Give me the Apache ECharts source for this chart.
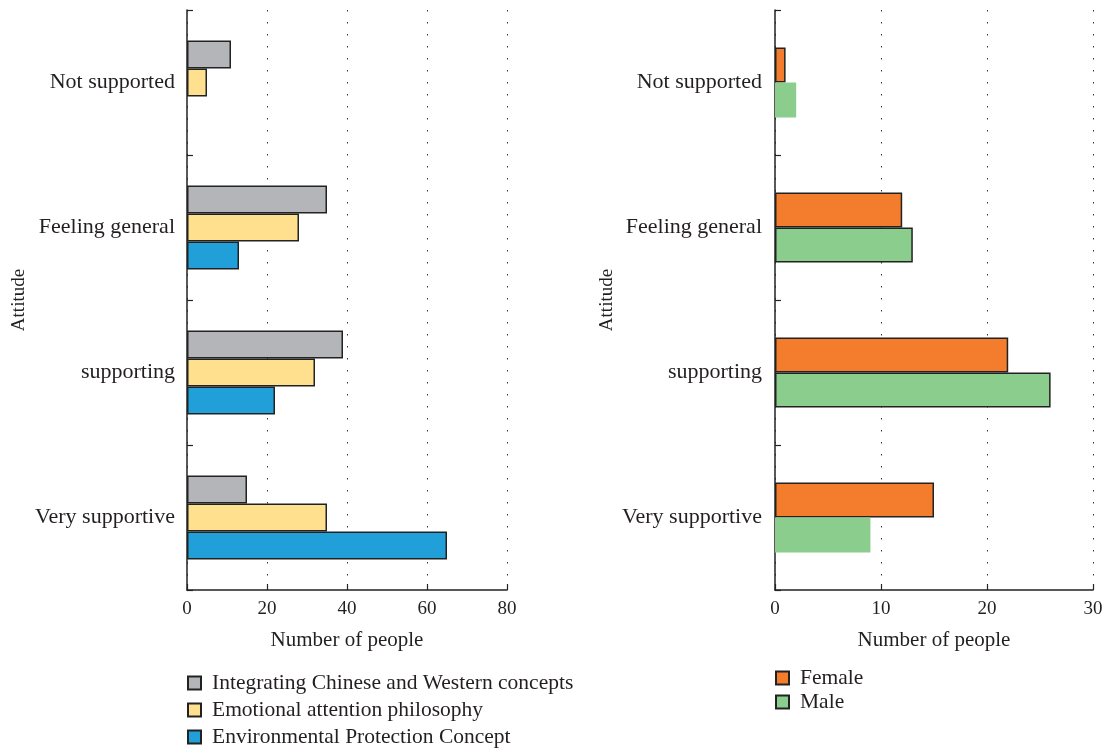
<!DOCTYPE html>
<html>
<head>
<meta charset="utf-8">
<script src="https://cdn.jsdelivr.net/npm/echarts@6/dist/echarts.min.js"></script>
<style>
html,body{margin:0;padding:0;background:#fff;}
#chart{width:1106px;height:750px;}
</style>
</head>
<body>
<div id="chart"></div>
<script>
const categories = ['Not supported', 'Feeling general', 'supporting', 'Very supportive'];
const seriesNamesLeft = ['Integrating Chinese and Western concepts', 'Emotional attention philosophy', 'Environmental Protection Concept'];
const integratingValues = [11, 35, 39, 15];
const emotionalValues = [5, 28, 32, 35];
const environmentalValues = [0, 13, 22, 65];
const seriesNamesRight = ['Female', 'Male'];
const femaleValues = [1, 12, 22, 15];
const maleValues = [2, 13, 26, 9];
const leftTicks = [0, 20, 40, 60, 80];
const rightTicks = [0, 10, 20, 30];

const FONT = '"Liberation Serif", "DejaVu Serif", serif';
const TXT = '#231f20';
const chart = echarts.init(document.getElementById('chart'));

function xAxisCfg(gridIndex, ticks) {
  return {
    type: 'value', gridIndex: gridIndex,
    min: ticks[0], max: ticks[ticks.length - 1], interval: ticks[1] - ticks[0],
    name: 'Number of people', nameLocation: 'middle', nameGap: 40,
    nameTextStyle: {fontFamily: FONT, fontSize: 21, color: TXT},
    axisLine: {show: true, lineStyle: {color: '#222', width: 1.5}},
    axisTick: {show: true, inside: true, length: 6, lineStyle: {color: '#222', width: 1.2}},
    axisLabel: {fontFamily: FONT, fontSize: 19, color: TXT, margin: 10},
    splitLine: {show: true, lineStyle: {color: '#333', width: 1, type: [1.5, 10.5]}}
  };
}
function yAxisCfg(gridIndex, gap, margin) {
  return {
    type: 'category', gridIndex: gridIndex, data: categories, inverse: true,
    name: 'Attitude', nameLocation: 'middle', nameGap: gap, nameRotate: 90,
    nameTextStyle: {fontFamily: FONT, fontSize: 19, color: TXT},
    axisLine: {show: true, lineStyle: {color: '#222', width: 1.5}},
    axisTick: {show: true, inside: true, length: 6, lineStyle: {color: '#222', width: 1.2}},
    axisLabel: {fontFamily: FONT, fontSize: 22, color: TXT, margin: margin},
    splitLine: {show: false}
  };
}
const border = {borderColor: '#222', borderWidth: 1.5};
const legendText = {fontFamily: FONT, fontSize: 21.5, color: TXT, padding: [0, 0, 0, 6]};

function legendFor(name, left, centerY) {
  return {data: [name], orient: 'vertical', left: left, top: centerY - 16, itemWidth: 13, itemHeight: 13,
          icon: 'rect', textStyle: legendText};
}
const leftRows = [683, 710, 737];
const rightRows = [678, 702];

chart.setOption({
  backgroundColor: '#fff',
  animation: false,
  grid: [
    {left: 187, right: 599, top: 10, bottom: 160, containLabel: false},
    {left: 775, right: 13, top: 10, bottom: 160, containLabel: false}
  ],
  xAxis: [xAxisCfg(0, leftTicks), xAxisCfg(1, rightTicks)],
  yAxis: [yAxisCfg(0, 158, 12), yAxisCfg(1, 158, 13)],
  legend: seriesNamesLeft.map((n, i) => legendFor(n, 182, leftRows[i]))
    .concat(seriesNamesRight.map((n, i) => legendFor(n, 770, rightRows[i]))),
  series: [
    {name: seriesNamesLeft[0], type: 'bar', xAxisIndex: 0, yAxisIndex: 0, data: integratingValues, barWidth: 28, barGap: '0%',
     itemStyle: Object.assign({color: '#b4b5b9'}, border)},
    {name: seriesNamesLeft[1], type: 'bar', xAxisIndex: 0, yAxisIndex: 0, data: emotionalValues, barWidth: 28, barGap: '0%',
     itemStyle: Object.assign({color: '#fee08f'}, border)},
    {name: seriesNamesLeft[2], type: 'bar', xAxisIndex: 0, yAxisIndex: 0, barWidth: 28, barGap: '0%',
     data: environmentalValues.map(v => v === 0 ? {value: v, itemStyle: {borderWidth: 0}} : v),
     itemStyle: Object.assign({color: '#219fd9'}, border)},
    {name: seriesNamesRight[0], type: 'bar', xAxisIndex: 1, yAxisIndex: 1, data: femaleValues, barWidth: 35, barGap: '0%',
     itemStyle: Object.assign({color: '#f47c2d'}, border)},
    {name: seriesNamesRight[1], type: 'bar', xAxisIndex: 1, yAxisIndex: 1, barWidth: 35, barGap: '0%',
     data: maleValues.map((v, i) => (i === 0 || i === 3) ? {value: v, itemStyle: {borderWidth: 0}} : v),
     itemStyle: Object.assign({color: '#8bcd8c'}, border)}
  ]
});
</script>
</body>
</html>
